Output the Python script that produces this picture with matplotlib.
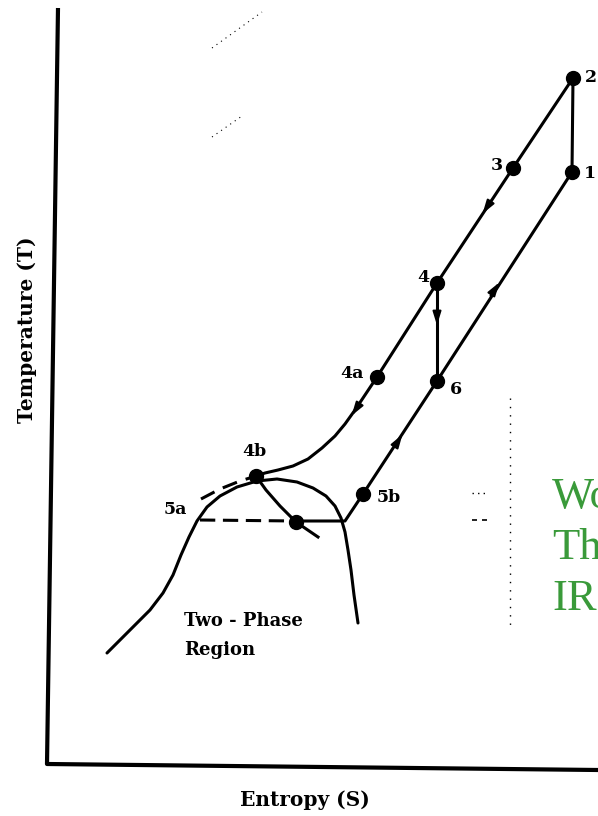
import matplotlib
matplotlib.use("Agg")
import matplotlib.pyplot as plt
import numpy as np

# all values in picture units: S runs left->right, T runs top->bottom (y down)
axis_s = [58, 47, 598]
axis_t = [8, 764, 770]

# expansion path 2 -> 3 -> 4 -> 4a -> curve down to 4b
exp_s = [573, 513, 437, 377, 365, 355, 345, 335, 322, 308, 293, 278, 265, 256]
exp_t = [78, 168, 283, 377, 395, 410, 424, 436, 448, 459, 466, 470, 473, 476]

# 4 -> 6 and 6 -> 1 -> 2
rh_s = [437, 437]
rh_t = [283, 381]
up_s = [437, 572, 573]
up_t = [381, 172, 78]

# heating path from dome to 5b -> 6
heat_s = [296, 345, 363, 437]
heat_t = [521, 521, 494, 381]

# saturation dome
dome_s = [107, 120, 135, 150, 163, 173, 181, 189, 197, 207, 220, 237, 257, 277,
          297, 313, 326, 335, 341, 345, 348, 351, 354, 358]
dome_t = [653, 640, 625, 610, 593, 575, 555, 537, 521, 507, 496, 487, 481, 479,
          482, 488, 496, 506, 518, 532, 550, 570, 595, 623]

# dashed curve 5a -> 4b and dashed 5a horizontal
dash_s = [201, 220, 240, 253]
dash_t = [499, 489, 481, 477]
hz_s = [200, 296]
hz_t = [520, 521]

# line from 4b down through the dome
cut_s = [256, 266, 280, 296, 318]
cut_t = [476, 490, 506, 522, 537]

pt_s = [573, 572, 513, 437, 437, 377, 256, 363, 296]
pt_t = [78, 172, 168, 283, 381, 377, 476, 494, 522]
lbl_txt = ["2", "1", "3", "4", "6", "4a", "4b", "5b", "5a"]
lbl_s = [585, 584, 503, 429, 450, 364, 254, 377, 175]
lbl_t = [78, 174, 165, 278, 389, 373, 452, 498, 510]
lbl_ha = ["left", "left", "right", "right", "left", "right", "center", "left", "center"]

# arrows: (from, to)
arrows = [((493, 198), (481, 216)),
          ((437, 305), (437, 328)),
          ((489, 298), (501, 280)),
          ((393, 449), (404, 432)),
          ((360, 403), (350, 418))]

fig = plt.figure(figsize=(5.98, 8.16), dpi=100)
ax = fig.add_axes([0, 0, 1, 1])
ax.set_xlim(0, 598)
ax.set_ylim(816, 0)
ax.axis("off")

k = "black"
ax.plot(axis_s, axis_t, color=k, lw=3.0, solid_capstyle="butt")
ax.plot(exp_s, exp_t, color=k, lw=2.2, solid_joinstyle="round")
ax.plot(rh_s, rh_t, color=k, lw=2.2)
ax.plot(up_s, up_t, color=k, lw=2.2)
ax.plot(heat_s, heat_t, color=k, lw=2.2)
ax.plot(dome_s, dome_t, color=k, lw=2.2, solid_capstyle="round", solid_joinstyle="round")
ax.plot(dash_s, dash_t, color=k, lw=2.2, dashes=(5, 3))
ax.plot(hz_s, hz_t, color=k, lw=2.2, dashes=(5, 2.5))
ax.plot(cut_s, cut_t, color=k, lw=2.2, solid_joinstyle="round")
ax.plot(pt_s, pt_t, "o", color=k, ms=10)

for (a, b) in arrows:
    ax.annotate("", xy=b, xytext=a,
                arrowprops=dict(arrowstyle="-|>,head_length=0.8,head_width=0.25",
                                color=k, lw=1.5))

serif = ["DejaVu Serif"]
for s, t, txt, ha in zip(lbl_s, lbl_t, lbl_txt, lbl_ha):
    ax.text(s, t, txt, fontsize=12.5, fontweight="bold", family=serif,
            ha=ha, va="center")

ax.text(184, 621, "Two - Phase", fontsize=13, fontweight="bold", family=serif,
        ha="left", va="center")
ax.text(184, 650, "Region", fontsize=13, fontweight="bold", family=serif,
        ha="left", va="center")

ax.text(27, 330, "Temperature (T)", rotation=90, fontsize=14.5, fontweight="bold",
        family=serif, ha="center", va="center")
ax.text(305, 800, "Entropy (S)", fontsize=14.5, fontweight="bold", family=serif,
        ha="center", va="center")

# green overlay text, cut by the right edge as in the scan
green = "#3a9a3a"
for t, txt in zip([497, 548, 599], ["Wo", "Th", "IR"]):
    ax.text(552, t, txt, fontsize=32, color=green, family="Liberation Serif",
            ha="left", va="center")

# faint dotted scan marks
ax.plot([510, 510], [398, 625], color=k, lw=1.0, dashes=(1, 5))
ax.plot([472, 488], [493, 493], color=k, lw=1.0, dashes=(1, 3))
ax.plot([472, 490], [520, 520], color=k, lw=1.2, dashes=(3, 3))
ax.plot([212, 262], [48, 12], color=k, lw=0.8, dashes=(1, 4))
ax.plot([212, 242], [137, 116], color=k, lw=0.8, dashes=(1, 4))

fig.savefig("out.png", dpi=100)
